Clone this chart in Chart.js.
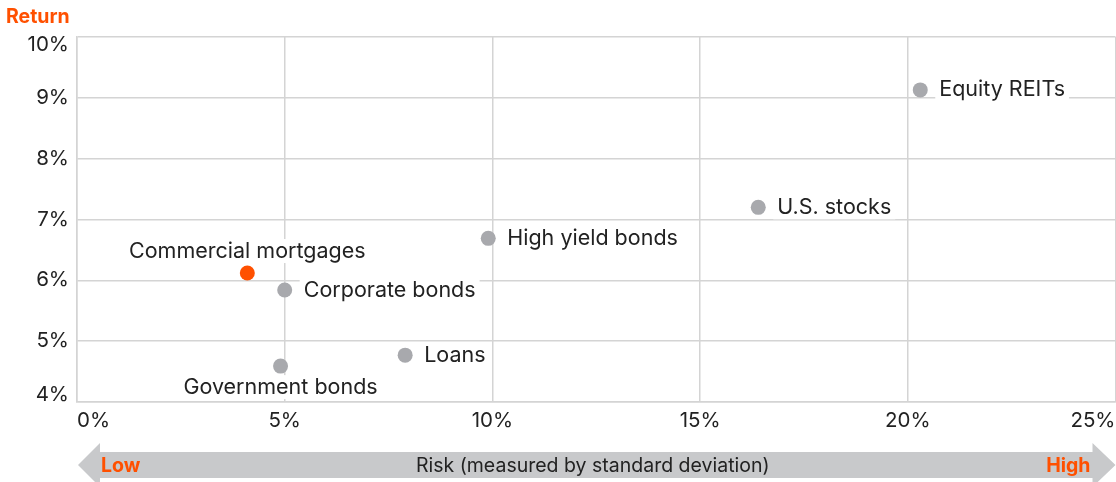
<!DOCTYPE html>
<html>
<head>
<title>Risk vs Return</title>
<script src="https://cdn.jsdelivr.net/npm/chart.js"></script>
<style>
  body { margin: 0; background: #fff; overflow: hidden; }
  /* a few px wider than the window: the x scale reserves ~7px on the right */
  #wrap { width: 1123px; height: 482px; }
</style>
</head>
<body>
<div id="wrap"><canvas id="myChart"></canvas></div>
<script>
const assets = ['Commercial mortgages', 'Corporate bonds', 'Government bonds', 'Loans', 'High yield bonds', 'U.S. stocks', 'Equity REITs'];
const risk = [4.1, 5.0, 4.9, 7.9, 9.9, 16.4, 20.3];
const returns = [6.12, 5.84, 4.59, 4.77, 6.69, 7.2, 9.13];
const xTicks = [0, 5, 10, 15, 20, 25];
const yTicks = [4, 5, 6, 7, 8, 9, 10];
const labelSide = ['above', 'right', 'below', 'right', 'right', 'right', 'right'];
const highlight = 'Commercial mortgages';

const ORANGE = '#ff5000';
const GREY = '#a8a9ad';
const TEXT = '#222';
const GRID = '#d4d4d4';
const FONT = 'Inter, "Noto Sans", sans-serif';

// point labels with white boxes behind them
const pointLabels = {
    id: 'pointLabels',
    beforeDatasetsDraw(chart) {
        const ctx = chart.ctx;
        const meta = chart.getDatasetMeta(0);
        ctx.save();
        ctx.font = '21.5px ' + FONT;
        ctx.textBaseline = 'middle';
        meta.data.forEach((pt, i) => {
            const text = assets[i];
            const w = ctx.measureText(text).width;
            let x = pt.x, y = pt.y;
            if (labelSide[i] === 'right') { x = pt.x + 19; }
            else if (labelSide[i] === 'above') { x = pt.x - w / 2; y = pt.y - 22; }
            else { x = pt.x - w / 2; y = pt.y + 21; }
            ctx.fillStyle = '#fff';
            ctx.fillRect(x - 4, y - 12, w + 8, 24);
            ctx.fillStyle = TEXT;
            ctx.textAlign = 'left';
            ctx.fillText(text, x, y);
        });
        ctx.restore();
    }
};

// y tick labels, title and the risk arrow
const decorations = {
    id: 'decorations',
    afterDraw(chart) {
        const ctx = chart.ctx;
        const area = chart.chartArea;
        const ys = chart.scales.y;
        ctx.save();
        ctx.font = '20.5px ' + FONT;
        ctx.fillStyle = TEXT;
        ctx.textAlign = 'right';
        ys.ticks.forEach((t, i) => {
            ctx.textBaseline = i === 0 ? 'bottom' : (i === ys.ticks.length - 1 ? 'top' : 'middle');
            const py = ys.getPixelForValue(t.value);
            ctx.fillText(t.value + '%', area.left - 8, py + (i === 0 ? 3 : (i === ys.ticks.length - 1 ? -2 : 0)));
        });

        ctx.font = 'bold 19.5px ' + FONT;
        ctx.fillStyle = ORANGE;
        ctx.textAlign = 'left';
        ctx.textBaseline = 'middle';
        ctx.fillText('Return', 6, 17);

        const l = area.left + 1, r = area.right, cy = 465;
        ctx.fillStyle = '#c8c9cb';
        ctx.beginPath();
        ctx.moveTo(l, cy);
        ctx.lineTo(l + 22, cy - 22);
        ctx.lineTo(l + 22, cy - 13);
        ctx.lineTo(r - 23, cy - 13);
        ctx.lineTo(r - 23, cy - 22);
        ctx.lineTo(r, cy);
        ctx.lineTo(r - 23, cy + 22);
        ctx.lineTo(r - 23, cy + 13);
        ctx.lineTo(l + 22, cy + 13);
        ctx.lineTo(l + 22, cy + 22);
        ctx.closePath();
        ctx.fill();

        ctx.font = 'bold 19.5px ' + FONT;
        ctx.fillStyle = ORANGE;
        ctx.textAlign = 'left';
        ctx.fillText('Low', l + 23, cy + 1);
        ctx.textAlign = 'right';
        ctx.fillText('High', r - 25, cy + 1);
        ctx.font = '19.5px ' + FONT;
        ctx.fillStyle = TEXT;
        ctx.textAlign = 'center';
        ctx.fillText('Risk (measured by standard deviation)', (l + r) / 2 - 4, cy + 1);
        ctx.restore();
    }
};

const ctx = document.getElementById('myChart').getContext('2d');
new Chart(ctx, {
    type: 'scatter',
    data: {
        datasets: [{
            data: assets.map((a, i) => ({ x: risk[i], y: returns[i] })),
            backgroundColor: assets.map(a => a === highlight ? ORANGE : GREY),
            pointRadius: 7.5,
            pointHoverRadius: 7.5,
            borderWidth: 0
        }]
    },
    options: {
        responsive: true,
        maintainAspectRatio: false,
        animation: false,
        layout: { padding: { top: 37, right: 1, left: 0, bottom: 0 } },
        plugins: { legend: { display: false }, tooltip: { enabled: false } },
        scales: {
            x: {
                type: 'linear',
                min: xTicks[0],
                max: xTicks[xTicks.length - 1],
                afterBuildTicks: s => { s.ticks = xTicks.map(v => ({ value: v })); },
                afterFit: s => { s.height = 80; },
                grid: { color: GRID, lineWidth: 1.5, drawTicks: false },
                border: { color: GRID, width: 1.5 },
                ticks: {
                    align: 'inner',
                    padding: 7,
                    color: TEXT,
                    font: { family: FONT, size: 20.5 },
                    callback: v => v + '%'
                }
            },
            y: {
                type: 'linear',
                min: yTicks[0],
                max: yTicks[yTicks.length - 1],
                afterBuildTicks: s => { s.ticks = yTicks.map(v => ({ value: v })); },
                afterFit: s => { s.width = 77; },
                grid: { color: GRID, lineWidth: 1.5, drawTicks: false },
                border: { color: GRID, width: 1.5 },
                ticks: { display: false }
            }
        }
    },
    plugins: [pointLabels, decorations]
});
</script>
</body>
</html>
